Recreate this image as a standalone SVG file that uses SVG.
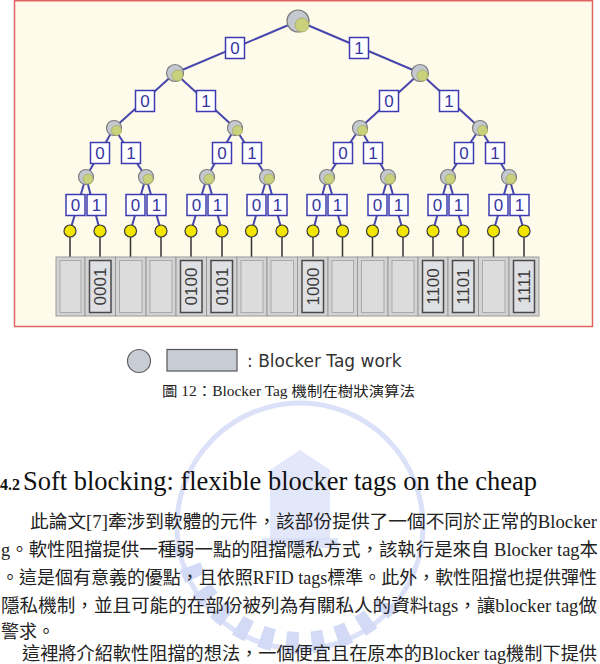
<svg xmlns="http://www.w3.org/2000/svg" width="600" height="664" viewBox="0 0 600 664">
<style>
.edge{stroke:#4646ac;stroke-width:2;fill:none}
.drop{stroke:#333;stroke-width:1.5}
.nd{fill:#c4c8cf;stroke:#7c7c7c;stroke-width:1.2}
.ni{fill:#c9d27a;stroke:#9aa05a;stroke-width:0.6}
.leaf{fill:#f2e600;stroke:#3a3a3a;stroke-width:1.2}
.lb rect{fill:#fff;stroke:#3c3cb0;stroke-width:1.5}
.lb text{font-family:"Liberation Sans",Arial,sans-serif;font-size:17px;fill:#3535a0;text-anchor:middle}
.cell{fill:#d3d3d3;stroke:#9a9a9a;stroke-width:1}
.cin{fill:#dcdcdc;stroke:#a9a9a9;stroke-width:1}
.cinL{fill:#dfe0e3;stroke:#4a4a4a;stroke-width:1.5}
.ctx{font-family:"Liberation Sans",Arial,sans-serif;font-size:17px;fill:#3a3a3a;text-anchor:middle}
.body{font-family:"Liberation Serif","Noto Sans CJK TC",serif;font-size:18px;fill:#222}
.wm{fill:#cdd6f6}
</style>
<defs>
<clipPath id="lowerHalf"><rect x="150" y="578" width="300" height="90"/></clipPath>
</defs>
<rect x="14.5" y="0.75" width="578" height="325.75" fill="#fefbea" stroke="#e06464" stroke-width="1.5"/>
<g id="watermark" opacity="0.8">
<circle cx="300" cy="526" r="123" fill="none" stroke="#d3daf7" stroke-width="5"/>
<circle cx="300" cy="526" r="117" fill="none" stroke="#c8d2f5" stroke-width="22" stroke-dasharray="7 7" transform="rotate(15 300 526)" pathLength="400" clip-path="url(#lowerHalf)"/>
<path class="wm" d="M270 470 L300 450 L330 470 L330 540 L270 540 Z" opacity="0.7"/>
<rect class="wm" x="262" y="538" width="76" height="10" opacity="0.8"/>
</g>
<g id="connectors">
<line class="edge" x1="298" y1="21" x2="175" y2="73"/>
<line class="edge" x1="298" y1="21" x2="420" y2="73"/>
<line class="edge" x1="175" y1="73" x2="114" y2="128"/>
<line class="edge" x1="175" y1="73" x2="235" y2="128"/>
<line class="edge" x1="420" y1="73" x2="360" y2="128"/>
<line class="edge" x1="420" y1="73" x2="480" y2="128"/>
<line class="edge" x1="114" y1="128" x2="86" y2="177"/>
<line class="edge" x1="114" y1="128" x2="146" y2="177"/>
<line class="edge" x1="235" y1="128" x2="207" y2="177"/>
<line class="edge" x1="235" y1="128" x2="267" y2="177"/>
<line class="edge" x1="360" y1="128" x2="327" y2="177"/>
<line class="edge" x1="360" y1="128" x2="388" y2="177"/>
<line class="edge" x1="480" y1="128" x2="448" y2="177"/>
<line class="edge" x1="480" y1="128" x2="509" y2="177"/>
<line class="edge" x1="86" y1="177" x2="70" y2="231"/>
<line class="edge" x1="86" y1="177" x2="100" y2="231"/>
<line class="edge" x1="146" y1="177" x2="130.5" y2="231"/>
<line class="edge" x1="146" y1="177" x2="161" y2="231"/>
<line class="edge" x1="207" y1="177" x2="191" y2="231"/>
<line class="edge" x1="207" y1="177" x2="222" y2="231"/>
<line class="edge" x1="267" y1="177" x2="251.5" y2="231"/>
<line class="edge" x1="267" y1="177" x2="282" y2="231"/>
<line class="edge" x1="327" y1="177" x2="313" y2="231"/>
<line class="edge" x1="327" y1="177" x2="342.5" y2="231"/>
<line class="edge" x1="388" y1="177" x2="372.5" y2="231"/>
<line class="edge" x1="388" y1="177" x2="403" y2="231"/>
<line class="edge" x1="448" y1="177" x2="433" y2="231"/>
<line class="edge" x1="448" y1="177" x2="463" y2="231"/>
<line class="edge" x1="509" y1="177" x2="493.5" y2="231"/>
<line class="edge" x1="509" y1="177" x2="524" y2="231"/>
<line class="drop" x1="70" y1="237" x2="70" y2="257"/>
<line class="drop" x1="100" y1="237" x2="100" y2="257"/>
<line class="drop" x1="130.5" y1="237" x2="130.5" y2="257"/>
<line class="drop" x1="161" y1="237" x2="161" y2="257"/>
<line class="drop" x1="191" y1="237" x2="191" y2="257"/>
<line class="drop" x1="222" y1="237" x2="222" y2="257"/>
<line class="drop" x1="251.5" y1="237" x2="251.5" y2="257"/>
<line class="drop" x1="282" y1="237" x2="282" y2="257"/>
<line class="drop" x1="313" y1="237" x2="313" y2="257"/>
<line class="drop" x1="342.5" y1="237" x2="342.5" y2="257"/>
<line class="drop" x1="372.5" y1="237" x2="372.5" y2="257"/>
<line class="drop" x1="403" y1="237" x2="403" y2="257"/>
<line class="drop" x1="433" y1="237" x2="433" y2="257"/>
<line class="drop" x1="463" y1="237" x2="463" y2="257"/>
<line class="drop" x1="493.5" y1="237" x2="493.5" y2="257"/>
<line class="drop" x1="524" y1="237" x2="524" y2="257"/>
</g>
<g id="labels">
<g class="lb"><rect x="225.5" y="37.5" width="19" height="21"/><text x="235" y="54">0</text></g>
<g class="lb"><rect x="349.5" y="37.5" width="19" height="21"/><text x="359" y="54">1</text></g>
<g class="lb"><rect x="135.5" y="90.5" width="19" height="21"/><text x="145" y="107">0</text></g>
<g class="lb"><rect x="196.5" y="90.5" width="19" height="21"/><text x="206" y="107">1</text></g>
<g class="lb"><rect x="379.5" y="90.5" width="19" height="21"/><text x="389" y="107">0</text></g>
<g class="lb"><rect x="439.5" y="90.5" width="19" height="21"/><text x="449" y="107">1</text></g>
<g class="lb"><rect x="90.5" y="142.5" width="19" height="21"/><text x="100" y="159">0</text></g>
<g class="lb"><rect x="121.5" y="142.5" width="19" height="21"/><text x="131" y="159">1</text></g>
<g class="lb"><rect x="212.5" y="142.5" width="19" height="21"/><text x="222" y="159">0</text></g>
<g class="lb"><rect x="242.5" y="142.5" width="19" height="21"/><text x="252" y="159">1</text></g>
<g class="lb"><rect x="333.5" y="142.5" width="19" height="21"/><text x="343" y="159">0</text></g>
<g class="lb"><rect x="363.5" y="142.5" width="19" height="21"/><text x="373" y="159">1</text></g>
<g class="lb"><rect x="454.5" y="142.5" width="19" height="21"/><text x="464" y="159">0</text></g>
<g class="lb"><rect x="485.5" y="142.5" width="19" height="21"/><text x="495" y="159">1</text></g>
<g class="lb"><rect x="66" y="194.5" width="19" height="21"/><text x="75.5" y="211">0</text></g>
<g class="lb"><rect x="87" y="194.5" width="19" height="21"/><text x="96.5" y="211">1</text></g>
<g class="lb"><rect x="126" y="194.5" width="19" height="21"/><text x="135.5" y="211">0</text></g>
<g class="lb"><rect x="147" y="194.5" width="19" height="21"/><text x="156.5" y="211">1</text></g>
<g class="lb"><rect x="187" y="194.5" width="19" height="21"/><text x="196.5" y="211">0</text></g>
<g class="lb"><rect x="208" y="194.5" width="19" height="21"/><text x="217.5" y="211">1</text></g>
<g class="lb"><rect x="247" y="194.5" width="19" height="21"/><text x="256.5" y="211">0</text></g>
<g class="lb"><rect x="268" y="194.5" width="19" height="21"/><text x="277.5" y="211">1</text></g>
<g class="lb"><rect x="307" y="194.5" width="19" height="21"/><text x="316.5" y="211">0</text></g>
<g class="lb"><rect x="328" y="194.5" width="19" height="21"/><text x="337.5" y="211">1</text></g>
<g class="lb"><rect x="368" y="194.5" width="19" height="21"/><text x="377.5" y="211">0</text></g>
<g class="lb"><rect x="389" y="194.5" width="19" height="21"/><text x="398.5" y="211">1</text></g>
<g class="lb"><rect x="428" y="194.5" width="19" height="21"/><text x="437.5" y="211">0</text></g>
<g class="lb"><rect x="449" y="194.5" width="19" height="21"/><text x="458.5" y="211">1</text></g>
<g class="lb"><rect x="489" y="194.5" width="19" height="21"/><text x="498.5" y="211">0</text></g>
<g class="lb"><rect x="510" y="194.5" width="19" height="21"/><text x="519.5" y="211">1</text></g>
</g>
<g id="n-root"><circle class="nd" cx="298" cy="21" r="11"/><circle class="ni" cx="302" cy="25" r="7"/></g>
<g id="n-0"><circle class="nd" cx="175" cy="73" r="8.5"/><circle class="ni" cx="177.5" cy="75.5" r="5.5"/></g>
<g id="n-1"><circle class="nd" cx="420" cy="73" r="8.5"/><circle class="ni" cx="422.5" cy="75.5" r="5.5"/></g>
<g id="n-00"><circle class="nd" cx="114" cy="128" r="7.5"/><circle class="ni" cx="116.5" cy="130.5" r="5"/></g>
<g id="n-01"><circle class="nd" cx="235" cy="128" r="7.5"/><circle class="ni" cx="237.5" cy="130.5" r="5"/></g>
<g id="n-10"><circle class="nd" cx="360" cy="128" r="7.5"/><circle class="ni" cx="362.5" cy="130.5" r="5"/></g>
<g id="n-11"><circle class="nd" cx="480" cy="128" r="7.5"/><circle class="ni" cx="482.5" cy="130.5" r="5"/></g>
<g id="n-000"><circle class="nd" cx="86" cy="177" r="7.5"/><circle class="ni" cx="88" cy="179" r="5"/></g>
<g id="n-001"><circle class="nd" cx="146" cy="177" r="7.5"/><circle class="ni" cx="148" cy="179" r="5"/></g>
<g id="n-010"><circle class="nd" cx="207" cy="177" r="7.5"/><circle class="ni" cx="209" cy="179" r="5"/></g>
<g id="n-011"><circle class="nd" cx="267" cy="177" r="7.5"/><circle class="ni" cx="269" cy="179" r="5"/></g>
<g id="n-100"><circle class="nd" cx="327" cy="177" r="7.5"/><circle class="ni" cx="329" cy="179" r="5"/></g>
<g id="n-101"><circle class="nd" cx="388" cy="177" r="7.5"/><circle class="ni" cx="390" cy="179" r="5"/></g>
<g id="n-110"><circle class="nd" cx="448" cy="177" r="7.5"/><circle class="ni" cx="450" cy="179" r="5"/></g>
<g id="n-111"><circle class="nd" cx="509" cy="177" r="7.5"/><circle class="ni" cx="511" cy="179" r="5"/></g>
<g id="leaves">
<circle class="leaf" cx="70" cy="231" r="6"/><circle class="leaf" cx="100" cy="231" r="6"/>
<circle class="leaf" cx="130.5" cy="231" r="6"/><circle class="leaf" cx="161" cy="231" r="6"/>
<circle class="leaf" cx="191" cy="231" r="6"/><circle class="leaf" cx="222" cy="231" r="6"/>
<circle class="leaf" cx="251.5" cy="231" r="6"/><circle class="leaf" cx="282" cy="231" r="6"/>
<circle class="leaf" cx="313" cy="231" r="6"/><circle class="leaf" cx="342.5" cy="231" r="6"/>
<circle class="leaf" cx="372.5" cy="231" r="6"/><circle class="leaf" cx="403" cy="231" r="6"/>
<circle class="leaf" cx="433" cy="231" r="6"/><circle class="leaf" cx="463" cy="231" r="6"/>
<circle class="leaf" cx="493.5" cy="231" r="6"/><circle class="leaf" cx="524" cy="231" r="6"/>
</g>
<g id="tags">
<rect class="cell" x="56" y="257" width="29" height="59"/><rect class="cin" x="60" y="260.5" width="21" height="52"/>
<rect class="cell" x="85" y="257" width="30.5" height="59"/><rect class="cinL" x="89.5" y="260.5" width="21.5" height="52"/><text class="ctx" transform="translate(100.25 286.5) rotate(-90)" y="6">0001</text>
<rect class="cell" x="115.5" y="257" width="30.5" height="59"/><rect class="cin" x="119.5" y="260.5" width="22.5" height="52"/>
<rect class="cell" x="146" y="257" width="30" height="59"/><rect class="cin" x="150" y="260.5" width="22" height="52"/>
<rect class="cell" x="176" y="257" width="30.5" height="59"/><rect class="cinL" x="180.5" y="260.5" width="21.5" height="52"/><text class="ctx" transform="translate(191.25 286.5) rotate(-90)" y="6">0100</text>
<rect class="cell" x="206.5" y="257" width="30.5" height="59"/><rect class="cinL" x="211" y="260.5" width="21.5" height="52"/><text class="ctx" transform="translate(221.75 286.5) rotate(-90)" y="6">0101</text>
<rect class="cell" x="237" y="257" width="30" height="59"/><rect class="cin" x="241" y="260.5" width="22" height="52"/>
<rect class="cell" x="267" y="257" width="30.5" height="59"/><rect class="cin" x="271" y="260.5" width="22.5" height="52"/>
<rect class="cell" x="297.5" y="257" width="30.5" height="59"/><rect class="cinL" x="302" y="260.5" width="21.5" height="52"/><text class="ctx" transform="translate(312.75 286.5) rotate(-90)" y="6">1000</text>
<rect class="cell" x="328" y="257" width="29.5" height="59"/><rect class="cin" x="332" y="260.5" width="21.5" height="52"/>
<rect class="cell" x="357.5" y="257" width="30.5" height="59"/><rect class="cin" x="361.5" y="260.5" width="22.5" height="52"/>
<rect class="cell" x="388" y="257" width="30" height="59"/><rect class="cin" x="392" y="260.5" width="22" height="52"/>
<rect class="cell" x="418" y="257" width="30" height="59"/><rect class="cinL" x="422.5" y="260.5" width="21" height="52"/><text class="ctx" transform="translate(433 286.5) rotate(-90)" y="6">1100</text>
<rect class="cell" x="448" y="257" width="30.5" height="59"/><rect class="cinL" x="452.5" y="260.5" width="21.5" height="52"/><text class="ctx" transform="translate(463.25 286.5) rotate(-90)" y="6">1101</text>
<rect class="cell" x="478.5" y="257" width="30.5" height="59"/><rect class="cin" x="482.5" y="260.5" width="22.5" height="52"/>
<rect class="cell" x="509" y="257" width="30" height="59"/><rect class="cinL" x="513.5" y="260.5" width="21" height="52"/><text class="ctx" transform="translate(524 286.5) rotate(-90)" y="6">1111</text>
</g>
<g id="legend">
<circle cx="139" cy="361" r="11.5" fill="#c8ccd4" stroke="#606060" stroke-width="1.2"/>
<rect x="167" y="349.5" width="70" height="21.5" fill="#c8ccd4" stroke="#555" stroke-width="1.2"/>
<text x="247" y="366.5" font-family="DejaVu Sans,sans-serif" font-size="17" fill="#333">: Blocker Tag work</text>
</g>
<text x="162" y="396" font-family="Liberation Serif,Noto Sans CJK TC,serif" font-size="14" fill="#222" textLength="253" lengthAdjust="spacingAndGlyphs">圖 12：Blocker Tag 機制在樹狀演算法</text>
<text x="0" y="490" font-family="Liberation Serif,serif" font-weight="bold" font-size="16" fill="#111">4.2</text>
<text x="23" y="490" font-family="Liberation Serif,serif" font-size="27" fill="#111" textLength="514" lengthAdjust="spacingAndGlyphs">Soft blocking: flexible blocker tags on the cheap</text>
<text class="body" x="30" y="528" textLength="567" lengthAdjust="spacingAndGlyphs">此論文[7]牽涉到軟體的元件，該部份提供了一個不同於正常的Blocker</text>
<text class="body" x="1" y="556" textLength="597" lengthAdjust="spacingAndGlyphs">g。軟性阻擋提供一種弱一點的阻擋隱私方式，該執行是來自 Blocker tag本</text>
<text class="body" x="1" y="584" textLength="596" lengthAdjust="spacingAndGlyphs">。這是個有意義的優點，且依照RFID tags標準。此外，軟性阻擋也提供彈性</text>
<text class="body" x="1" y="612" textLength="596" lengthAdjust="spacingAndGlyphs">隱私機制，並且可能的在部份被列為有關私人的資料tags，讓blocker tag做</text>
<text class="body" x="1" y="638">警求。</text>
<text class="body" x="22" y="660" textLength="575" lengthAdjust="spacingAndGlyphs">這裡將介紹軟性阻擋的想法，一個便宜且在原本的Blocker tag機制下提供</text>
</svg>
